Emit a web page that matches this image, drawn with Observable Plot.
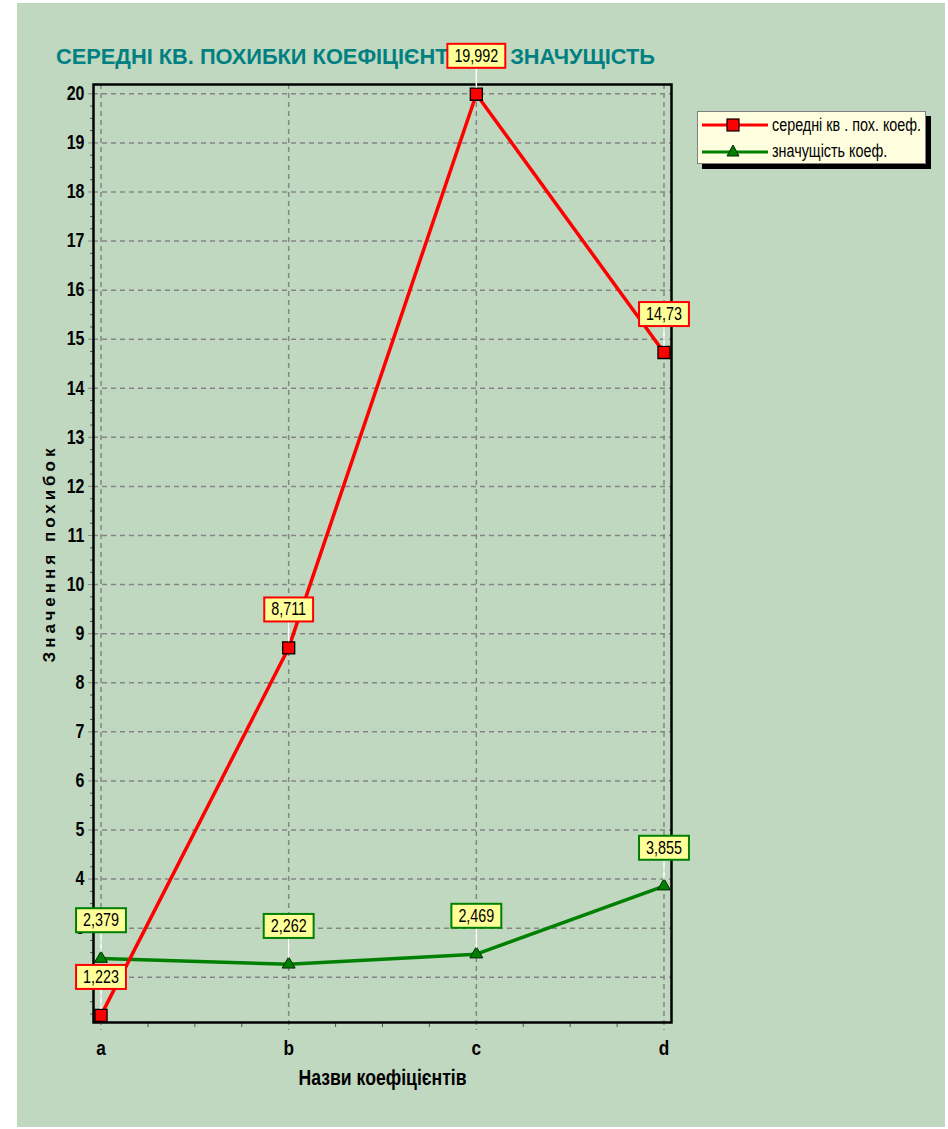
<!DOCTYPE html>
<html>
<head>
<meta charset="utf-8">
<script src="https://cdn.jsdelivr.net/npm/d3@7"></script>
<script src="https://cdn.jsdelivr.net/npm/@observablehq/plot@0.6"></script>
<style>
  body { margin: 0; background: #ffffff; }
  #panel { position: absolute; left: 17px; top: 3px; width: 928px; height: 1124px; background: #c0d8c0; overflow: hidden; }
  #title { position: absolute; left: 39px; top: 43px; font: bold 22px/1 "Liberation Sans", Arial, sans-serif; color: #008080; white-space: nowrap; transform-origin: 0 0; }
  #chart { position: absolute; left: 0; top: 0; }
  #legend { position: absolute; left: 680px; top: 108px; width: 227px; height: 51px; background: #ffffe0; border: 1px solid #808080; box-shadow: 5px 5px 0 #000000; font: 17.5px "Liberation Sans", Arial, sans-serif; color: #000; }
  #legend .row { position: absolute; left: 4px; height: 20px; display: flex; align-items: center; white-space: nowrap; }
  #legend svg { margin-right: 4px; flex: none; }
  #legend span { display: inline-block; transform: scaleX(0.82); transform-origin: 0 50%; }
  .ylabel text { letter-spacing: 4px; }
</style>
</head>
<body>
<div id="panel">
  <div id="title">СЕРЕДНІ КВ. ПОХИБКИ КОЕФІЦІЄНТІВ ТА ЗНАЧУЩІСТЬ</div>
  <div id="chart"></div>
  <div id="legend">
    <div class="row" style="top:3px">
      <svg width="66" height="14"><line x1="0" y1="7" x2="66" y2="7" stroke="#ff0000" stroke-width="3"/><rect x="25" y="1" width="12" height="12" fill="#ff0000" stroke="#000" stroke-width="1.2"/></svg>
      <span>середні кв . пох. коеф.</span>
    </div>
    <div class="row" style="top:29px">
      <svg width="66" height="14"><line x1="0" y1="8" x2="66" y2="8" stroke="#008000" stroke-width="3"/><path d="M31,1 L37,12 L25,12 Z" fill="#008000" stroke="#002800" stroke-width="1"/></svg>
      <span>значущість коеф.</span>
    </div>
  </div>
</div>
<script>
// Coefficient names and the two series plotted over them
const categories = ["a", "b", "c", "d"];
const stdErrors = [1.223, 8.711, 19.992, 14.73];     // середні кв. похибки
const significance = [2.379, 2.262, 2.469, 3.855];  // значущість
const yTicks = [2, 3, 4, 5, 6, 7, 8, 9, 10, 11, 12, 13, 14, 15, 16, 17, 18, 19, 20];
const xTickLabels = ["a", "b", "c", "d"];
const yTitle = "Значення похибок";
const xTitle = "Назви коефіцієнтів";

const sans = "'Liberation Sans', Arial, sans-serif";
const NARROW = 0.82; // horizontal squeeze giving a narrow face
const errRows = categories.map((c, i) => ({i, value: stdErrors[i]}));
const sigRows = categories.map((c, i) => ({i, value: significance[i]}));
const xIndex = categories.map((c, i) => i);
const xMinor = [];
for (let k = 0; k < categories.length - 1; k++) for (const f of [0.25, 0.5, 0.75]) xMinor.push(k + f);
const yMinor = [];
for (let v = 1.25; v < 20.2; v += 0.25) if (Math.abs(v - Math.round(v)) > 0.01) yMinor.push(v);
const fmt = v => String(v).replace(".", ",");

const leader = {draw(ctx, l) { ctx.moveTo(0, 0); ctx.lineTo(0, -l); }};

const chart = Plot.plot({
  width: 928,
  height: 1124,
  marginLeft: 76,
  marginTop: 81,
  marginRight: 274,
  marginBottom: 105,
  style: {background: "transparent", overflow: "visible"},
  x: {type: "linear", domain: [-0.04, 3.04], axis: null},
  y: {domain: [1.077, 20.19], axis: null},
  marks: [
    Plot.gridY(yTicks, {stroke: "#858585", strokeOpacity: 1, strokeWidth: 1.5, strokeDasharray: "5,4"}),
    Plot.gridX(xIndex, {stroke: "#858585", strokeOpacity: 1, strokeWidth: 1.5, strokeDasharray: "5,4", insetBottom: -8}),
    Plot.axisY(yTicks, {tickSize: 5, stroke: "#858585", text: null, label: null}),
    Plot.axisY(yMinor, {tickSize: 3, stroke: "#555555", text: null, label: null}),
    Plot.axisX(xMinor, {tickSize: 5, stroke: "#555555", text: null, label: null}),
    Plot.axisY(yTicks, {tickSize: 0, tickPadding: 9, fill: "#000", fontFamily: sans, fontWeight: "bold", fontSize: 19.5, tickFormat: d => String(d), label: null, className: "narrow"}),
    Plot.axisX(xIndex, {tickSize: 0, tickPadding: 18, fill: "#000", fontFamily: sans, fontWeight: "bold", fontSize: 21, tickFormat: i => xTickLabels[i], label: null, className: "narrow"}),
    Plot.frame({stroke: "#000", strokeWidth: 2.5}),

    // significance series
    Plot.line(sigRows, {x: "i", y: "value", stroke: "#008000", strokeWidth: 3.5}),
    Plot.dot(sigRows, {x: "i", y: "value", symbol: "triangle", r: 4.8, fill: "#008000", stroke: "#002800", strokeWidth: 1}),
    // standard error series
    Plot.line(errRows, {x: "i", y: "value", stroke: "#ff0000", strokeWidth: 3.5}),
    Plot.dot(errRows, {x: "i", y: "value", symbol: "square", r: 6.8, fill: "#ff0000", stroke: "#000", strokeWidth: 1.3}),

    // value callouts
    Plot.vector(sigRows, {x: "i", y: "value", length: 19, rotate: 0, anchor: "start", dy: -7, stroke: "#ffffff", strokeWidth: 1.5, shape: leader}),
    Plot.vector(errRows, {x: "i", y: "value", length: 19, rotate: 0, anchor: "start", dy: -7, stroke: "#ffffff", strokeWidth: 1.5, shape: leader}),
    Plot.text(sigRows, {x: "i", y: "value", text: d => fmt(d.value), dy: -38, fontSize: 17.5, fontFamily: sans, fill: "#000", className: "vlabel-green"}),
    Plot.text(errRows, {x: "i", y: "value", text: d => fmt(d.value), dy: -38, fontSize: 17.5, fontFamily: sans, fill: "#000", className: "vlabel-red"}),

    // axis titles
    Plot.text([yTitle], {frameAnchor: "left", dx: -44, rotate: -90, textAnchor: "middle", text: d => d, fontSize: 17, fontWeight: "bold", fontFamily: sans, fill: "#000", className: "ylabel"}),
    Plot.text([xTitle], {frameAnchor: "bottom", dy: 56, textAnchor: "middle", lineAnchor: "middle", text: d => d, fontSize: 21.5, fontWeight: "bold", fontFamily: sans, fill: "#000", className: "narrow"})
  ]
});

document.getElementById("chart").append(chart);

// squeeze a text horizontally about its own anchor
function squeeze(el) {
  const t = el.getAttribute("transform") || "";
  el.setAttribute("transform", `${t} scale(${NARROW},1)`);
}

// yellow boxes behind the value callouts
for (const [cls, color] of [["vlabel-green", "#008000"], ["vlabel-red", "#ff0000"]]) {
  d3.select(chart).selectAll(`g.${cls} text`).each(function () {
    const b = this.getBBox();
    const w = b.width * NARROW;
    const cx = (b.x + b.width / 2) * NARROW;
    const rect = document.createElementNS("http://www.w3.org/2000/svg", "rect");
    rect.setAttribute("x", cx - w / 2 - 7);
    rect.setAttribute("y", b.y - 2);
    rect.setAttribute("width", w + 14);
    rect.setAttribute("height", b.height + 4);
    rect.setAttribute("fill", "#ffff99");
    rect.setAttribute("stroke", color);
    rect.setAttribute("stroke-width", 2);
    const t = this.getAttribute("transform");
    if (t) rect.setAttribute("transform", t);
    this.parentNode.insertBefore(rect, this);
    squeeze(this);
  });
}
d3.select(chart).selectAll("g.narrow text").each(function () { squeeze(this); });

// stretch the heading to its measured span
const title = document.getElementById("title");
const tw = title.getBoundingClientRect().width;
title.style.transform = `scaleX(${599 / tw})`;
</script>
</body>
</html>
